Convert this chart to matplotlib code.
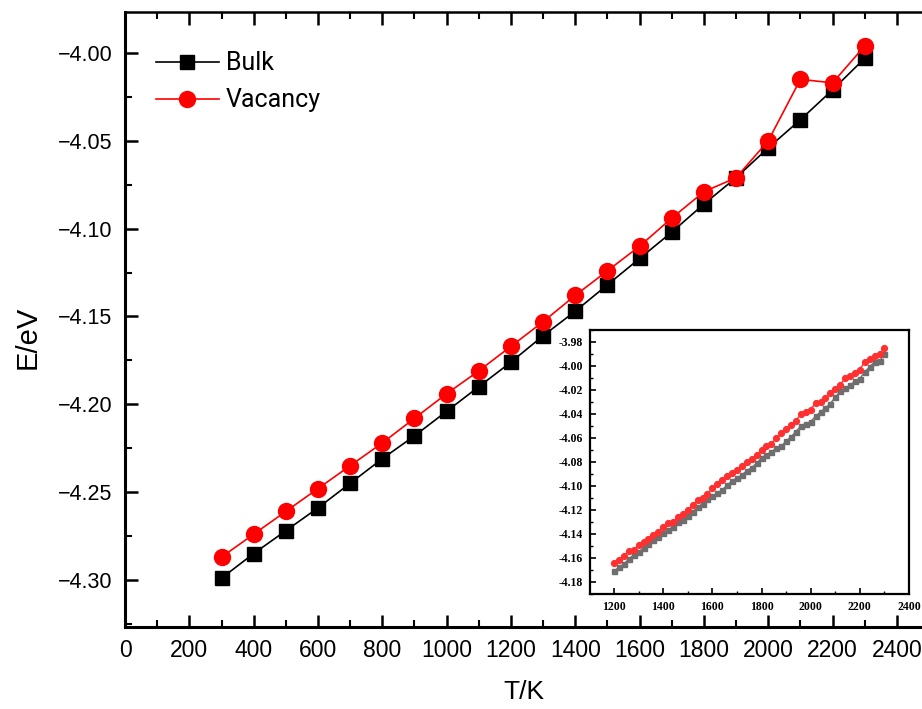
import matplotlib
matplotlib.use("Agg")
import matplotlib.pyplot as plt
from matplotlib.ticker import MultipleLocator, FormatStrFormatter, FuncFormatter

# ---------------- data ----------------
T_main = [300, 400, 500, 600, 700, 800, 900, 1000, 1100, 1200, 1300,
          1400, 1500, 1600, 1700, 1800, 1900, 2000, 2100, 2200, 2300]
bulk = [-4.299, -4.285, -4.272, -4.259, -4.245, -4.231, -4.218, -4.204,
        -4.190, -4.176, -4.161, -4.147, -4.132, -4.117, -4.102, -4.086,
        -4.071, -4.054, -4.038, -4.021, -4.003]
vacancy = [-4.287, -4.274, -4.261, -4.248, -4.235, -4.222, -4.208, -4.194,
           -4.181, -4.167, -4.153, -4.138, -4.124, -4.110, -4.094, -4.079,
           -4.071, -4.050, -4.015, -4.017, -3.996]

T_inset = list(range(1200, 2301, 20))
vac_inset = [-4.1645, -4.1614, -4.158, -4.1545, -4.1536, -4.149, -4.147, -4.144,
             -4.1406, -4.138, -4.134, -4.131, -4.130, -4.1256, -4.123, -4.120,
             -4.116, -4.112, -4.110, -4.1065, -4.102, -4.098, -4.095, -4.0915,
             -4.089, -4.0865, -4.0835, -4.0804, -4.0776, -4.0738, -4.070, -4.0663,
             -4.0646, -4.0604, -4.056, -4.0524, -4.0493, -4.0455, -4.0402, -4.038,
             -4.0363, -4.0308, -4.0297, -4.0269, -4.0224, -4.0194, -4.0155, -4.0102,
             -4.008, -4.0055, -4.003, -3.9964, -3.9939, -3.992, -3.9897, -3.9853]
bulk_inset = [-4.1708, -4.1678, -4.165, -4.1609, -4.1572, -4.155, -4.1517, -4.1487,
              -4.1453, -4.1428, -4.1392, -4.1364, -4.134, -4.130, -4.128, -4.1251,
              -4.1215, -4.1176, -4.1148, -4.1109, -4.1084, -4.1062, -4.1032, -4.0993,
              -4.0957, -4.0934, -4.0907, -4.0874, -4.0846, -4.081, -4.0765, -4.074,
              -4.0715, -4.0685, -4.0668, -4.0627, -4.0591, -4.0546, -4.0499, -4.0485,
              -4.0463, -4.0419, -4.0383, -4.0349, -4.0313, -4.026, -4.0211, -4.0186,
              -4.0161, -4.0125, -4.0105, -4.005, -4.0005, -3.9969, -3.9961, -3.990]

x_label = "T/K"
y_label = "E/eV"
series_names = ["Bulk", "Vacancy"]

# ---------------- figure ----------------
fig = plt.figure(figsize=(9.22, 7.09), dpi=100)
ax = fig.add_axes([0.1356, 0.1157, 1.0 - 0.1356, 0.8673])

ax.plot(T_main, bulk, color="black", lw=1.2, marker="s", ms=10,
        mfc="black", mec="black", label=series_names[0], zorder=3)
ax.plot(T_main, vacancy, color="red", lw=1.2, marker="o", ms=11.5,
        mfc="red", mec="red", label=series_names[1], zorder=4)

ax.set_xlim(0, 2478)
ax.set_ylim(-4.3268, -3.9767)
ax.xaxis.set_major_locator(MultipleLocator(200))
ax.xaxis.set_minor_locator(MultipleLocator(100))
ax.yaxis.set_major_locator(MultipleLocator(0.05))
ax.yaxis.set_minor_locator(MultipleLocator(0.025))
ax.yaxis.set_major_formatter(FuncFormatter(lambda v, p: f"{v:.2f}".replace("-", "\u2212")))

ax.tick_params(axis="both", which="major", direction="in", length=9, width=1.8)
ax.tick_params(axis="both", which="minor", direction="in", length=5, width=1.5)
ax.tick_params(axis="x", which="both", top=True, labeltop=False)
ax.tick_params(axis="x", which="major", labelsize=16.5, pad=9)
ax.tick_params(axis="y", which="major", labelsize=15.5, pad=9)
for lab in ax.get_xticklabels() + ax.get_yticklabels():
    lab.set_fontfamily("Liberation Sans")

for s in ["left", "bottom"]:
    ax.spines[s].set_linewidth(2.2)
ax.spines["top"].set_linewidth(1.8)
ax.spines["right"].set_visible(False)

ax.set_xlabel(x_label, fontsize=19, fontfamily="Liberation Sans")
ax.set_ylabel(y_label, fontsize=21, fontfamily="Liberation Sans")
ax.xaxis.set_label_coords(0.5, -0.086)
ax.yaxis.set_label_coords(-0.105, 0.4715)

leg = ax.legend(loc="upper left", bbox_to_anchor=(31 / 797, 0.936), frameon=False,
                prop={"family": "Roboto", "size": 18}, handlelength=2.5,
                handletextpad=0.28, labelspacing=0.52, borderaxespad=0.0,
                borderpad=0.0)

# ---------------- inset ----------------
ins = fig.add_axes([0.6399, 0.1622, 0.9859 - 0.6399, 0.5346 - 0.1622])
ins.plot(T_inset, bulk_inset, color="#6e6e6e", lw=1.0, marker="s", ms=3.6,
         mfc="#6e6e6e", mec="#6e6e6e")
ins.plot(T_inset, vac_inset, color="#ff3030", lw=1.0, marker="o", ms=4.2,
         mfc="#ff3030", mec="#ff3030")
ins.set_xlim(1102, 2400)
ins.set_ylim(-4.19, -3.97)
ins.xaxis.set_major_locator(MultipleLocator(200))
ins.xaxis.set_minor_locator(MultipleLocator(100))
ins.yaxis.set_major_locator(MultipleLocator(0.02))
ins.yaxis.set_minor_locator(MultipleLocator(0.01))
ins.yaxis.set_major_formatter(FormatStrFormatter("%.2f"))
ins.tick_params(axis="both", which="major", direction="in", length=4, width=1.2,
                labelsize=8.5, pad=5)
ins.tick_params(axis="both", which="minor", direction="in", length=2, width=1.0)
for lab in ins.get_xticklabels() + ins.get_yticklabels():
    lab.set_fontfamily("Liberation Serif")
    lab.set_fontweight("bold")
for s in ins.spines.values():
    s.set_linewidth(1.6)

fig.savefig("out.png", dpi=100)
